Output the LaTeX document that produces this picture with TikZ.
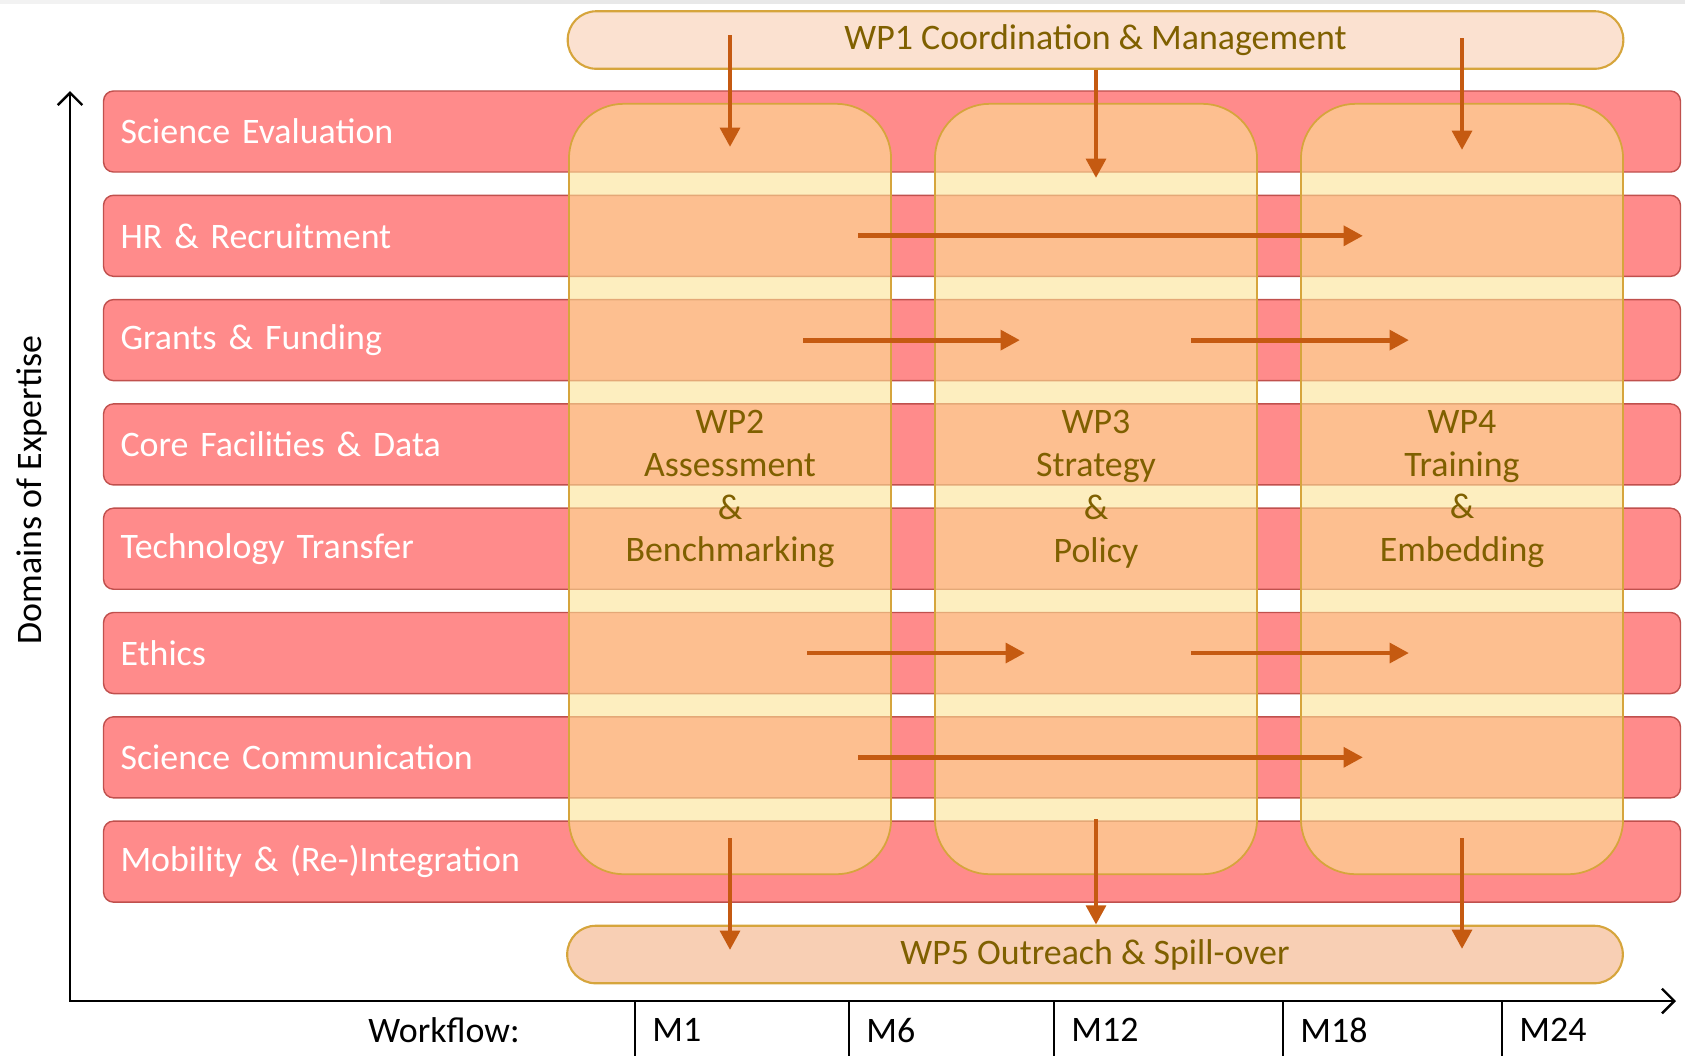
\documentclass[tikz,border=0pt]{standalone}
\usepackage{fontspec}
\setmainfont{Carlito}
\usetikzlibrary{arrows.meta}
\definecolor{barred}{HTML}{FF8B8B}
\definecolor{barline}{HTML}{C0504D}
\definecolor{wpfill}{HTML}{FCE394}
\definecolor{wpline}{HTML}{D6A53C}
\definecolor{wptext}{HTML}{7F6000}
\definecolor{flowc}{HTML}{C55A11}
\definecolor{wpafill}{HTML}{FBE1D0}
\definecolor{wpbfill}{HTML}{F8CFB4}
\newcommand{\lbl}{\fontsize{10.2}{12.2}\selectfont}
\tikzset{
  bar/.style={draw=barline, line width=0.4pt, fill=barred, rounded corners=0.1cm, minimum height=0.81cm, text width=15.42cm, inner xsep=0.17cm, align=left, text=white, font=\lbl},
  wpcol/.style={draw=wpline, line width=0.5pt, fill=wpfill, fill opacity=0.6, text opacity=1, rounded corners=0.55cm, minimum width=3.22cm, minimum height=7.70cm, align=center, text=wptext, font=\lbl},
  wpbar/.style={draw=wpline, line width=0.6pt, rounded corners=0.285cm, minimum width=10.55cm, minimum height=0.575cm, text=wptext, font=\lbl},
  flow/.style={draw=flowc, line width=1.4pt, -{Triangle[length=5.5pt,width=5.5pt]}}
}
\begin{document}
\begin{tikzpicture}[x=0.01cm, y=-0.01cm]
\useasboundingbox (0,0) rectangle (1685,1056);
\fill[black!5] (0,0) rectangle (380,4);
\fill[black!9] (380,0) rectangle (1685,4);
\foreach \t [count=\i] in {Science Evaluation, HR \& Recruitment, Grants \& Funding, Core Facilities \& Data, Technology Transfer, Ethics, Science Communication, Mobility \& (Re-)Integration}
  {\node[bar] (r\i) at (892, {27.2+104.3*\i}) {\t};}
\node[wpcol] (wp2) at (730,489) {WP2\\Assessment\\\&\\Benchmarking};
\node[wpcol] (wp3) at (1096,489) {WP3\\Strategy\\\&\\Policy};
\node[wpcol] (wp4) at (1462,489) {WP4\\Training\\\&\\Embedding};
\node[wpbar, fill=wpafill] (wp1) at (1095.5,40) {WP1 Coordination \& Management};
\node[wpbar, fill=wpbfill] (wp5) at (1095,954.5) {WP5 Outreach \& Spill-over};
\draw[flow] (wp2 |- 0,35) -- (wp2 |- 0,147);
\draw[flow] (wp3 |- wp1.south) -- (wp3 |- 0,178);
\draw[flow] (wp4 |- 0,38) -- (wp4 |- 0,150);
\draw[flow] (858,0 |- r2) -- (1363,0 |- r2);
\draw[flow] (803,0 |- r3) -- (1020,0 |- r3);
\draw[flow] (1191,0 |- r3) -- (1409,0 |- r3);
\draw[flow] (807,0 |- r6) -- (1025,0 |- r6);
\draw[flow] (1191,0 |- r6) -- (1409,0 |- r6);
\draw[flow] (858,0 |- r7) -- (1363,0 |- r7);
\draw[flow] (wp2 |- 0,838) -- (wp2 |- 0,950);
\draw[flow] (wp3 |- 0,819) -- (wp3 |- wp5.north);
\draw[flow] (wp4 |- 0,838) -- (wp4 |- 0,949);
\draw[line width=0.7pt, {Straight Barb[length=3.5pt,width=7pt]}-{Straight Barb[length=3.5pt,width=7pt]}] (70,91) -- (70,1001) -- (1676,1001);
\node[rotate=90, font=\lbl] (ylab) at (32,490) {Domains of Expertise};
\node[anchor=east, font=\lbl] (wf) at (532,1030) {Workflow:};
\foreach \x/\m in {635/M1,849/M6,1054/M12,1283/M18,1502/M24}
  {\draw[line width=0.6pt] (\x,1001) -- (\x,1056);
   \node[anchor=west, font=\lbl] (t\m) at (\x+5,1030) {\m};}
\end{tikzpicture}
\end{document}
